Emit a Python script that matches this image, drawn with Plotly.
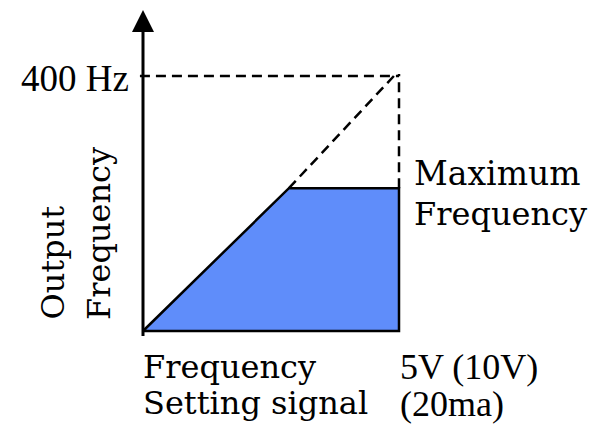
import plotly.graph_objects as go

# ---- data (signal in V, output frequency in Hz) ----
signal_full = 5.0          # 5V (10V) / 20 mA
knee_signal = 2.85         # where output reaches the maximum frequency
max_freq = 224.0           # "Maximum Frequency" level
top_freq = 400.0           # 400 Hz
dash_end_signal = 4.9      # dashed extension end

area_x = [0, knee_signal, signal_full, signal_full, 0]
area_y = [0, max_freq, max_freq, 0, 0]

ext_x = [knee_signal, dash_end_signal]
ext_y = [max_freq, top_freq]

hline_x = [-0.06, signal_full]
hline_y = [top_freq, top_freq]

vline_x = [signal_full, signal_full]
vline_y = [max_freq, top_freq + 3]

# ---- pixel mapping (layout) ----
W, H = 591, 432
X0_PX, XF_PX = 143, 399      # x=0 and x=signal_full
Y0_PX, YT_PX = 331, 76       # y=0 and y=top_freq (from top)
sx = (XF_PX - X0_PX) / signal_full
sy = (Y0_PX - YT_PX) / top_freq
x_range = [-X0_PX / sx, (W - X0_PX) / sx]
y_range = [-(H - Y0_PX) / sy, top_freq + YT_PX / sy]

def py(px):
    return 1 - px / H

def px_(p):
    return p / W

tip_y = top_freq + (YT_PX - 10) / sy
axis_bottom = -(336 - Y0_PX) / sy

fig = go.Figure()
fig.add_trace(go.Scatter(x=area_x, y=area_y, mode="lines", fill="toself",
                         fillcolor="#5F8DFA", line=dict(color="black", width=2.5),
                         hoverinfo="skip"))
dash = dict(color="black", width=2.5, dash="10px,6px")
for xs, ys in [(ext_x, ext_y), (hline_x, hline_y), (vline_x, vline_y)]:
    fig.add_trace(go.Scatter(x=xs, y=ys, mode="lines", line=dash, hoverinfo="skip"))

# vertical axis with arrow head
fig.add_shape(type="line", x0=0, x1=0, y0=axis_bottom, y1=tip_y - 20 / sy,
              line=dict(color="black", width=3))
fig.add_shape(type="path", xref="x", yref="y", xsizemode="pixel", ysizemode="pixel",
              xanchor=0, yanchor=tip_y, path="M0,0 L-11,-22 L11,-22 Z",
              fillcolor="black", line=dict(color="black", width=0))

serif = "DejaVu Serif"
times = "Liberation Serif"
fs = 32
ft = 36

def label(text, x_px, y_px, family, size, xanchor="left", angle=0, yanchor="middle"):
    fig.add_annotation(text=text, x=px_(x_px), y=py(y_px), xref="paper", yref="paper",
                       showarrow=False, xanchor=xanchor, yanchor=yanchor, textangle=angle,
                       font=dict(family=family, size=size, color="black"))

label("400 Hz", 131, 79, times, 37, xanchor="right")
label("Maximum", 412, 173, serif, 33)
label("Frequency", 412, 214, serif, fs)
label("Frequency", 141, 367, serif, fs)
label("Setting signal", 141, 403, serif, fs)
label("5V (10V)", 398, 367, times, ft)
label("(20ma)", 398, 404, times, ft)
label("Output", 52.5, 322, serif, fs, xanchor="center", angle=-90, yanchor="bottom")
label("Frequency", 98.5, 322, serif, fs, xanchor="center", angle=-90, yanchor="bottom")
# clipped title at top edge
label("Frequency", 352, -19, serif, fs)

fig.update_layout(
    width=W, height=H, autosize=False,
    margin=dict(l=0, r=0, t=0, b=0, pad=0),
    paper_bgcolor="white", plot_bgcolor="white",
    showlegend=False,
    xaxis=dict(range=x_range, visible=False, fixedrange=True),
    yaxis=dict(range=y_range, visible=False, fixedrange=True),
)
fig.write_html("out.html", config={"displayModeBar": False},
               post_script="document.body.style.margin='0';document.body.style.overflow='hidden';")
